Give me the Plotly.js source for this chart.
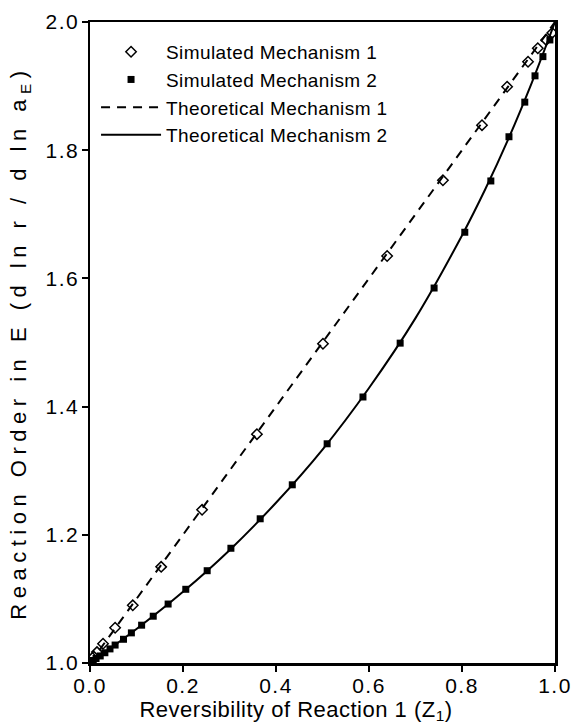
<!DOCTYPE html>
<html>
<head>
<meta charset="utf-8">
<script src="https://cdn.plot.ly/plotly-3.0.1.min.js"></script>
<style>html,body{margin:0;padding:0;background:#fff;}#chart{width:572px;height:725px;}</style>
</head>
<body>
<div id="chart"></div>
<script>
// Simulated Mechanism 1 (open diamonds)
var sim1Z = [0.008, 0.015, 0.028, 0.054, 0.092, 0.153, 0.241, 0.359, 0.501, 0.639, 0.759, 0.843, 0.897, 0.942, 0.963, 0.981, 0.994];
var sim1Y = [1.010, 1.017, 1.030, 1.055, 1.090, 1.150, 1.239, 1.357, 1.498, 1.635, 1.753, 1.839, 1.899, 1.938, 1.959, 1.972, 1.983];
// Simulated Mechanism 2 (filled squares)
var sim2Z = [0.007, 0.013, 0.022, 0.032, 0.043, 0.054, 0.072, 0.089, 0.111, 0.136, 0.168, 0.206, 0.252, 0.303, 0.366, 0.435, 0.510, 0.587, 0.667, 0.740, 0.806, 0.862, 0.901, 0.935, 0.957, 0.974, 0.989];
var sim2Y = [1.004, 1.007, 1.011, 1.016, 1.022, 1.028, 1.037, 1.047, 1.059, 1.073, 1.092, 1.115, 1.144, 1.179, 1.225, 1.278, 1.342, 1.415, 1.499, 1.585, 1.672, 1.752, 1.821, 1.875, 1.916, 1.946, 1.972];
// Theoretical Mechanism 1 (dashed)
var theo1Z = [0.0, 0.25, 0.5, 0.75, 1.0];
var theo1Y = [1.0, 1.25, 1.5, 1.75, 2.0];
// Theoretical Mechanism 2 (solid)
var theo2Z = [0.0, 0.1, 0.2, 0.3, 0.4, 0.5, 0.6, 0.7, 0.8, 0.85, 0.9, 0.95, 1.0];
var theo2Y = [1.0, 1.053, 1.111, 1.176, 1.25, 1.333, 1.429, 1.538, 1.667, 1.739, 1.818, 1.905, 2.0];

var seriesNames = ['Simulated Mechanism 1', 'Simulated Mechanism 2', 'Theoretical Mechanism 1', 'Theoretical Mechanism 2'];
var xTicks = [0.0, 0.2, 0.4, 0.6, 0.8, 1.0];
var yTicks = [1.0, 1.2, 1.4, 1.6, 1.8, 2.0];
var xTitle = 'Reversibility of Reaction 1 (Z<sub>1</sub>)';
var yTitle = 'Reaction Order in E (d ln r / d ln a<sub>E</sub>)';

var FONT = 'Liberation Sans, Arial, sans-serif';
function spaced(t, px) { return '<span style="letter-spacing:' + px + 'px">' + t + '</span>'; }
function tickText(v, pad) { return v.map(function (n) { return pad + spaced(n.toFixed(1), 1.5); }); }

var traces = [
  {x: sim1Z, y: sim1Y, name: spaced(seriesNames[0], 0.4), mode: 'markers', type: 'scatter',
   marker: {symbol: 'diamond-open', size: 8, color: '#000', line: {width: 1.5, color: '#000'}}},
  {x: sim2Z, y: sim2Y, name: spaced(seriesNames[1], 0.4), mode: 'markers', type: 'scatter',
   marker: {symbol: 'square', size: 7, color: '#000'}},
  {x: theo1Z, y: theo1Y, name: spaced(seriesNames[2], 0.4), mode: 'lines', type: 'scatter',
   line: {color: '#000', width: 2, dash: '9px,7px'}},
  {x: theo2Z, y: theo2Y, name: spaced(seriesNames[3], 0.4), mode: 'lines', type: 'scatter',
   line: {color: '#000', width: 2, shape: 'spline'}}
];

var axisCommon = {
  showgrid: false, zeroline: false, showline: true, linecolor: '#000', linewidth: 2.5,
  mirror: true, ticks: 'outside', ticklen: 6, tickwidth: 2, tickcolor: '#000',
  tickfont: {family: FONT, size: 21, color: '#000'}
};

var layout = {
  width: 572, height: 725,
  margin: {l: 90, r: 17, t: 22, b: 62},
  paper_bgcolor: '#fff', plot_bgcolor: '#fff',
  font: {family: FONT, color: '#000'},
  showlegend: true,
  legend: {x: 0.013, y: 0.983, xanchor: 'left', yanchor: 'top', bgcolor: 'rgba(0,0,0,0)', traceorder: 'normal',
           font: {family: FONT, size: 19, color: '#000'}, itemwidth: 60, tracegroupgap: 0},
  xaxis: Object.assign({}, axisCommon, {range: [0, 1], tickvals: xTicks, ticktext: tickText(xTicks, ''), ticklabelstandoff: -4,
    title: {text: spaced(xTitle + '&nbsp;&nbsp;&nbsp;&nbsp;&nbsp;&nbsp;&nbsp;&nbsp;', 0.5), font: {family: FONT, size: 22, color: '#000'}, standoff: 3}}),
  yaxis: Object.assign({}, axisCommon, {range: [1, 2], tickvals: yTicks, ticktext: tickText(yTicks, '&nbsp;&nbsp;'), ticklabelstandoff: -2,
    title: {text: spaced(yTitle, 5.5), font: {family: FONT, size: 22, color: '#000'}, standoff: 0}})
};

Plotly.newPlot('chart', traces, layout, {displayModeBar: false, staticPlot: true});
</script>
</body>
</html>
